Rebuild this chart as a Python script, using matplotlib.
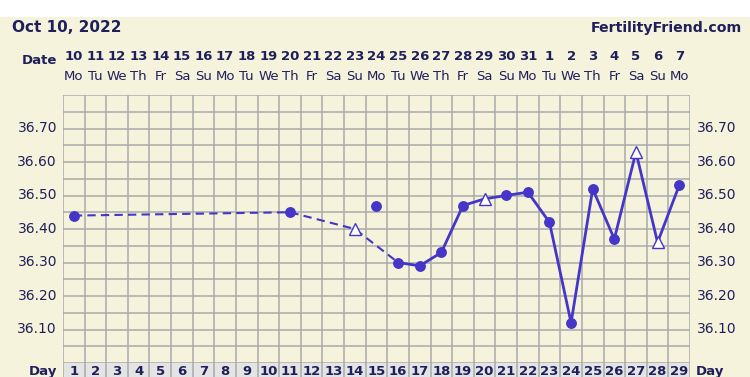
import matplotlib.pyplot as plt
import numpy as np

# chart data
day_numbers = list(range(1, 30))
date_numbers = list(range(10, 32)) + list(range(1, 8))
weekdays = ["Mo", "Tu", "We", "Th", "Fr", "Sa", "Su"] * 4 + ["Mo"]

temp_days = [1, 11, 14, 15, 16, 17, 18, 19, 20, 21, 22, 23, 24, 25, 26, 27, 28, 29]
temps = [36.44, 36.45, 36.40, 36.47, 36.30, 36.29, 36.33, 36.47, 36.49, 36.50,
         36.51, 36.42, 36.12, 36.52, 36.37, 36.63, 36.36, 36.53]
open_days = [14, 20, 27, 28]      # triangle markers
discarded_days = [15]             # not joined to the line
solid_from_day = 16               # line is dashed before this day

y_ticks = [36.10, 36.20, 36.30, 36.40, 36.50, 36.60, 36.70]

bg = "#f6f3dc"
grid_color = "#aaaaaa"
line_color = "#4535c8"
text_color = "#1f1f5c"

W, H = 750, 377
fig = plt.figure(figsize=(W / 100, H / 100), dpi=100)
fig.patch.set_facecolor(bg)

# white strip at the top
fig.patches.append(plt.Rectangle((0, 1 - 17 / H), 1, 17 / H, transform=fig.transFigure,
                                 facecolor="white", edgecolor="none", zorder=-10))

left, right, top, bottom = 63, 690, 95, 363
ax = fig.add_axes([left / W, 1 - bottom / H, (right - left) / W, (bottom - top) / H])
ax.set_facecolor(bg)
ax.set_xlim(0.5, 29.5)
ax.set_ylim(36.0, 36.8)

for x in np.arange(0.5, 30, 1):
    ax.axvline(x, color=grid_color, lw=1.1, zorder=1)
for y in np.arange(36.0, 36.81, 0.05):
    ax.axhline(y, color=grid_color, lw=1.1, zorder=1)
for s in ax.spines.values():
    s.set_visible(False)
ax.set_xticks([])
ax.set_yticks([])

# line segments
d = np.array(temp_days)
t = np.array(temps)
keep = ~np.isin(d, discarded_days)
dk, tk = d[keep], t[keep]
dash = dk <= solid_from_day
ax.plot(dk[dash], tk[dash], color=line_color, lw=1.5, ls=(0, (4, 2.5)), zorder=2)
solid = dk >= solid_from_day
ax.plot(dk[solid], tk[solid], color=line_color, lw=2.0, zorder=2)

# markers
is_open = np.isin(d, open_days)
ax.plot(d[~is_open], t[~is_open], "o", color=line_color, ms=6.8, zorder=3, ls="none")
ax.plot(d[is_open], t[is_open], "^", mfc="white", mec=line_color, mew=1.0,
        ms=8, zorder=3, ls="none")

# temperature labels on both sides
for v in y_ticks:
    ax.text(0.22, v, f"{v:.2f}", ha="right", va="center",
            fontsize=10, color=text_color, clip_on=False)
    ax.text(29.82, v, f"{v:.2f}", ha="left", va="center",
            fontsize=10, color=text_color, clip_on=False)

# day row at the bottom
dax = fig.add_axes([left / W, 1 - (bottom + 20) / H, (right - left) / W, 20 / H])
dax.set_xlim(0.5, 29.5)
dax.set_ylim(0, 20)
dax.set_facecolor("#e4e4e4")
for s in dax.spines.values():
    s.set_visible(False)
dax.set_xticks([])
dax.set_yticks([])
for x in np.arange(0.5, 30, 1):
    dax.axvline(x, color=grid_color, lw=1.1)
for n in day_numbers:
    dax.text(n, 11.5, str(n), ha="center", va="center", fontsize=9.5,
             fontweight="bold", color=text_color)

# dates and weekdays on top
for n, dn, wd in zip(day_numbers, date_numbers, weekdays):
    x = (left + (n - 0.5) * (right - left) / 29) / W
    fig.text(x, 1 - 56 / H, str(dn), ha="center", va="center", fontsize=9.5,
             fontweight="bold", color=text_color)
    fig.text(x, 1 - 77 / H, wd, ha="center", va="center", fontsize=9.5,
             color=text_color)

fig.text(57 / W, 1 - 61 / H, "Date", ha="right", va="center", fontsize=9.5,
         fontweight="bold", color=text_color)
fig.text(57 / W, 1 - 371 / H, "Day", ha="right", va="center", fontsize=9.5,
         fontweight="bold", color=text_color)
fig.text(696 / W, 1 - 371 / H, "Day", ha="left", va="center", fontsize=9.5,
         fontweight="bold", color=text_color)

fig.text(12 / W, 1 - 28 / H, "Oct 10, 2022", ha="left", va="center", fontsize=11,
         fontweight="bold", color=text_color)
fig.text(742 / W, 1 - 28 / H, "FertilityFriend.com", ha="right", va="center",
         fontsize=10.2, fontweight="bold", color=text_color)

fig.savefig("out.png", dpi=100, facecolor=fig.get_facecolor())
